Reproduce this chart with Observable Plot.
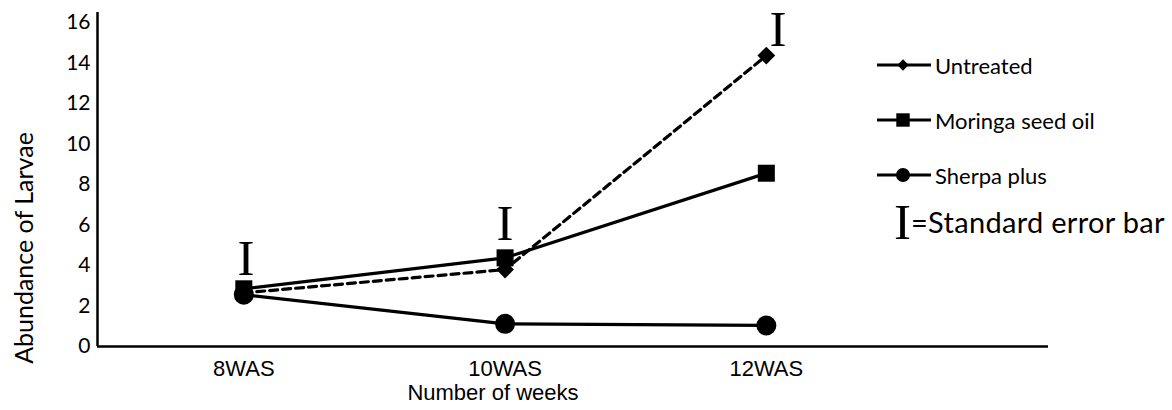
<!DOCTYPE html>
<html>
<head>
<meta charset="utf-8">
<script src="https://cdn.jsdelivr.net/npm/d3@7"></script>
<script src="https://cdn.jsdelivr.net/npm/@observablehq/plot@0.6"></script>
<style>
  html, body { margin: 0; padding: 0; background: #fff; }
  #wrap { position: relative; width: 1172px; height: 410px; background: #fff; overflow: hidden; }
  .leg { position: absolute; display: flex; align-items: center; font-family: Lato, sans-serif; color: #000; white-space: nowrap; }
  .title { position: absolute; white-space: nowrap; color: #000; line-height: 1; }
</style>
</head>
<body>
<div id="wrap"></div>
<script>
// ---- data ----
const categories = ["8WAS", "10WAS", "12WAS"];
const untreated = [2.65, 3.8, 14.37];
const moringa   = [2.85, 4.38, 8.56];
const sherpa    = [2.56, 1.12, 1.04];
// vertical centre of the "I" standard-error glyph at each week, and small horizontal shift (category units)
const errorBarCentre = [4.32, 6.06, 15.65];
const errorBarShift  = [0.008, 0, 0.045];
const yTicks = [0, 2, 4, 6, 8, 10, 12, 14, 16];
const seriesNames = ["Untreated", "Moringa seed oil", "Sherpa plus"];
const yLabel = "Abundance of Larvae";
const xLabel = "Number of weeks";
const errorLegend = "=Standard error bar";

const toRows = (vals) => vals.map((v, i) => ({i, v}));
const uRows = toRows(untreated), mRows = toRows(moringa), sRows = toRows(sherpa);
const eRows = errorBarCentre.map((v, i) => ({i: i + errorBarShift[i], v}));

const chart = Plot.plot({
  width: 1172,
  height: 410,
  marginLeft: 97,
  marginRight: 124,
  marginTop: 12,
  marginBottom: 64,
  style: {background: "white", fontFamily: "Lato, sans-serif", color: "black"},
  x: {type: "linear", domain: [-0.56, 3.08], axis: null},
  y: {domain: [0, 16.5], axis: null},
  marks: [
    Plot.axisY({ticks: yTicks, tickSize: 0, tickPadding: 7, fontSize: 21, fontFamily: "Lato, sans-serif", label: null}),
    Plot.axisX({ticks: [0, 1, 2], tickFormat: (d) => categories[d], tickSize: 0, tickPadding: 14, fontSize: 22, fontFamily: "'Liberation Sans', Arial, sans-serif", label: null}),
    Plot.ruleY([0], {stroke: "black", strokeWidth: 2.5}),
    Plot.ruleX([-0.56], {stroke: "black", strokeWidth: 2.5}),
    Plot.line(sRows, {x: "i", y: "v", stroke: "black", strokeWidth: 3.2}),
    Plot.line(mRows, {x: "i", y: "v", stroke: "black", strokeWidth: 3.2}),
    Plot.line(uRows, {x: "i", y: "v", stroke: "black", strokeWidth: 3.2, strokeDasharray: "8,5"}),
    Plot.dot(sRows, {x: "i", y: "v", symbol: "circle", r: 10, fill: "black", stroke: "none"}),
    Plot.dot(mRows, {x: "i", y: "v", symbol: "square", r: 9.6, fill: "black", stroke: "none"}),
    Plot.dot(uRows, {x: "i", y: "v", symbol: "diamond2", r: 8, fill: "black", stroke: "none"}),
    Plot.text(eRows, {x: "i", y: "v", text: () => "I", fontSize: 51, fontFamily: "'Liberation Serif', 'Times New Roman', serif", fill: "black", lineAnchor: "middle"})
  ]
});

const wrap = document.getElementById("wrap");
wrap.appendChild(chart);

// ---- axis titles (HTML overlay) ----
const yt = document.createElement("div");
yt.className = "title";
yt.textContent = yLabel;
yt.style.cssText += "left:22.5px;top:248px;transform:translate(-50%,-50%) rotate(-90deg);font-family:Lato,sans-serif;font-size:25px;";
wrap.appendChild(yt);

const xt = document.createElement("div");
xt.className = "title";
xt.textContent = xLabel;
xt.style.cssText += "left:493px;top:382px;transform:translateX(-50%);font-family:'Liberation Sans',Arial,sans-serif;font-size:22px;";
wrap.appendChild(xt);

// ---- legend (HTML overlay) ----
const legendSymbols = [d3.symbolDiamond2, d3.symbolSquare, d3.symbolCircle];
const legendAreas = [82, 180, 154];
const legendTops = [53, 108, 163];
seriesNames.forEach((name, k) => {
  const div = document.createElement("div");
  div.className = "leg";
  div.style.left = "876px";
  div.style.top = legendTops[k] + "px";
  div.style.height = "24px";
  div.style.fontSize = "22px";
  const path = d3.symbol(legendSymbols[k], legendAreas[k])();
  div.innerHTML = `<svg width="56" height="24" style="display:block"><line x1="1" x2="55" y1="12" y2="12" stroke="black" stroke-width="3"/><path d="${path}" transform="translate(27,12)" fill="black"/></svg><span style="margin-left:3px">${name}</span>`;
  wrap.appendChild(div);
});
const eDiv = document.createElement("div");
eDiv.className = "leg";
eDiv.style.left = "894px";
eDiv.style.top = "196px";
eDiv.style.height = "52px";
eDiv.innerHTML = `<span style="font-family:'Liberation Serif','Times New Roman',serif;font-size:51px;line-height:52px">I</span><span style="font-size:29px;letter-spacing:0.3px;line-height:52px">${errorLegend}</span>`;
wrap.appendChild(eDiv);
</script>
</body>
</html>
